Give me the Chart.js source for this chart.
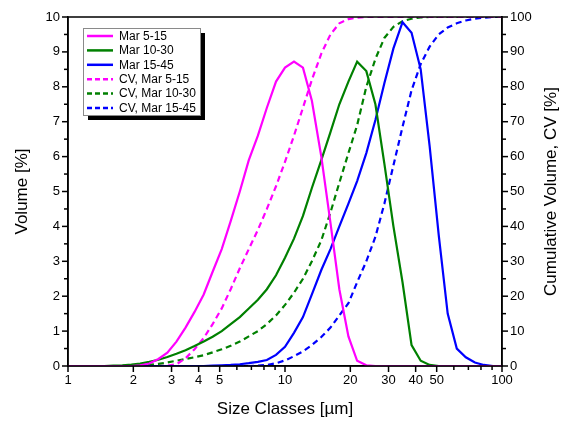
<!DOCTYPE html>
<html>
<head>
<meta charset="utf-8">
<script src="https://cdn.jsdelivr.net/npm/chart.js@4"></script>
<style>
  html, body { margin: 0; padding: 0; background: #fff; }
</style>
</head>
<body>
<canvas id="chart" width="566" height="421"></canvas>
<script>
// size classes [µm]
const sizes = [1, 1.1, 1.21, 1.33, 1.47, 1.62, 1.78, 1.96, 2.15, 2.37,
  2.61, 2.87, 3.16, 3.48, 3.83, 4.22, 4.64, 5.11, 5.62, 6.19,
  6.81, 7.5, 8.25, 9.09, 10, 11, 12.1, 13.3, 14.7, 16.2,
  17.8, 19.6, 21.5, 23.7, 26.1, 28.7, 31.6, 34.8, 38.3, 42.2,
  46.4, 51.1, 56.2, 61.9, 68.1, 75, 82.5, 90.9, 100];

// volume [%]
const vol5_15 = [0, 0, 0, 0, 0, 0, 0, 0, 0.02, 0.07,
  0.2, 0.38, 0.7, 1.1, 1.55, 2.05, 2.7, 3.35, 4.15, 5.0,
  5.9, 6.6, 7.4, 8.15, 8.55, 8.72, 8.55, 7.6, 6.0, 4.1,
  2.2, 0.85, 0.15, 0.02, 0, 0, 0, 0, 0, 0,
  0, 0, 0, 0, 0, 0, 0, 0, 0];
const vol10_30 = [0, 0, 0, 0, 0, 0.01, 0.02, 0.04, 0.07, 0.12,
  0.18, 0.26, 0.35, 0.45, 0.57, 0.7, 0.84, 1.0, 1.2, 1.4,
  1.65, 1.9, 2.2, 2.6, 3.1, 3.65, 4.3, 5.1, 5.9, 6.7,
  7.5, 8.15, 8.72, 8.45, 7.5, 5.8, 4.0, 2.4, 0.6, 0.15,
  0.03, 0, 0, 0, 0, 0, 0, 0, 0];
const vol15_45 = [0, 0, 0, 0, 0, 0, 0, 0, 0, 0,
  0, 0, 0, 0, 0, 0, 0.01, 0.02, 0.03, 0.05,
  0.08, 0.12, 0.17, 0.32, 0.55, 0.95, 1.4, 2.05, 2.75, 3.35,
  4.0, 4.65, 5.3, 6.1, 7.05, 8.1, 9.1, 9.85, 9.55, 8.5,
  6.3, 3.75, 1.5, 0.5, 0.25, 0.1, 0.03, 0, 0];

// cumulative volume [%]
const cv5_15 = [0, 0, 0, 0, 0, 0, 0, 0, 0, 0,
  0, 0.1, 0.5, 2.2, 4.8, 8, 12, 16.5, 22, 28,
  33.5, 39, 45, 51.5, 58.5, 66, 74, 82, 89.5, 95,
  98.2, 99.4, 99.8, 100, 100, 100, 100, 100, 100, 100,
  100, 100, 100, 100, 100, 100, 100, 100, 100];
const cv10_30 = [0, 0, 0, 0, 0, 0, 0, 0.05, 0.15, 0.3,
  0.6, 1.0, 1.5, 2.0, 2.5, 3.1, 3.9, 4.8, 5.8, 7.0,
  8.5, 10, 12, 14.5, 17.5, 21, 25, 30, 36, 44,
  52.5, 61, 69, 80, 88, 94, 97.2, 98.8, 99.5, 99.9,
  100, 100, 100, 100, 100, 100, 100, 100, 100];
const cv15_45 = [0, 0, 0, 0, 0, 0, 0, 0, 0, 0,
  0, 0, 0, 0, 0, 0, 0, 0, 0, 0,
  0, 0.1, 0.3, 0.8, 1.6, 2.8, 4.2, 6, 8.3, 11,
  14.5, 18, 24, 30, 37, 46.5, 57.5, 68.5, 79, 86.5,
  91.5, 95, 97, 98.2, 99, 99.5, 99.8, 100, 100];

const xTicks = [1, 2, 3, 4, 5, 6, 7, 8, 9, 10, 20, 30, 40, 50, 60, 70, 80, 90, 100];
const xLabels = [1, 2, 3, 4, 5, 10, 20, 30, 40, 50, 100];

const MAGENTA = '#ff00ff';
const GREEN = '#008000';
const BLUE = '#0000ff';

function pts(ys) {
  return sizes.map((x, i) => ({ x: x, y: ys[i] }));
}

function line(label, ys, color, axis, dashed) {
  return {
    label: label,
    data: pts(ys),
    yAxisID: axis,
    borderColor: color,
    backgroundColor: color,
    borderWidth: 2.2,
    borderDash: dashed ? [6, 4] : [],
    pointRadius: 0,
    tension: 0,
    fill: false,
  };
}

function tickMark(c, x1, y1, x2, y2) {
  c.beginPath();
  c.moveTo(x1, y1);
  c.lineTo(x2, y2);
  c.stroke();
}

// frame, tick marks (long major / short minor), right title and boxed legend
const extras = {
  id: 'extras',
  afterDraw(chart) {
    const c = chart.ctx;
    const a = chart.chartArea;
    const sx = chart.scales.x, sy = chart.scales.y, sy2 = chart.scales.y2;
    c.save();
    c.setLineDash([]);
    c.strokeStyle = '#000';
    c.lineWidth = 1.5;
    c.strokeRect(a.left, a.top, a.right - a.left, a.bottom - a.top);

    xTicks.forEach(v => {
      const p = sx.getPixelForValue(v);
      tickMark(c, p, a.bottom, p, a.bottom + (xLabels.includes(v) ? 6 : 4));
    });
    for (let v = 0; v <= 10; v += 0.5) {
      const p = sy.getPixelForValue(v);
      tickMark(c, a.left, p, a.left - (Number.isInteger(v) ? 6 : 4), p);
    }
    for (let v = 0; v <= 100; v += 5) {
      const p = sy2.getPixelForValue(v);
      tickMark(c, a.right, p, a.right + (v % 10 === 0 ? 6 : 4), p);
    }

    // right axis title, reading bottom to top
    c.fillStyle = '#000';
    c.font = '17px "Liberation Sans", Arial, sans-serif';
    c.textAlign = 'center';
    c.textBaseline = 'middle';
    c.translate(551, (a.top + a.bottom) / 2);
    c.rotate(-Math.PI / 2);
    c.fillText('Cumulative Volume, CV [%]', 0, 0);
    c.restore();

    // legend
    const bx = 83, by = 28, bw = 117, bh = 87;
    c.save();
    c.fillStyle = '#000';
    c.fillRect(bx + 5, by + 5, bw, bh);
    c.fillStyle = '#fff';
    c.fillRect(bx, by, bw, bh);
    c.strokeStyle = '#8a8a8a';
    c.lineWidth = 1;
    c.strokeRect(bx + 0.5, by + 0.5, bw, bh);
    c.font = '12px "Liberation Sans", Arial, sans-serif';
    c.textAlign = 'left';
    c.textBaseline = 'middle';
    chart.data.datasets.forEach((ds, i) => {
      const y = by + 8 + i * 14.4;
      c.strokeStyle = ds.borderColor;
      c.lineWidth = 2.5;
      c.setLineDash(ds.borderDash.length ? [5, 3] : []);
      tickMark(c, 87, y, 113, y);
      c.setLineDash([]);
      c.fillStyle = '#000';
      c.fillText(ds.label, 119, y + 0.5);
    });
    c.restore();
  }
};

Chart.defaults.font.family = '"Liberation Sans", Arial, sans-serif';
Chart.defaults.color = '#000';

const tickGrid = { drawOnChartArea: false, drawTicks: true, tickLength: 5, tickColor: 'rgba(0,0,0,0)', color: 'rgba(0,0,0,0)' };

const chart = new Chart(document.getElementById('chart'), {
  type: 'line',
  data: {
    datasets: [
      line('Mar 5-15', vol5_15, MAGENTA, 'y', false),
      line('Mar 10-30', vol10_30, GREEN, 'y', false),
      line('Mar 15-45', vol15_45, BLUE, 'y', false),
      line('CV, Mar 5-15', cv5_15, MAGENTA, 'y2', true),
      line('CV, Mar 10-30', cv10_30, GREEN, 'y2', true),
      line('CV, Mar 15-45', cv15_45, BLUE, 'y2', true),
    ],
  },
  options: {
    responsive: false,
    animation: false,
    layout: { padding: { top: 17, left: 0, right: 0, bottom: 0 } },
    plugins: {
      legend: { display: false },
      tooltip: { enabled: false },
    },
    scales: {
      x: {
        type: 'logarithmic',
        position: 'bottom',
        min: 1,
        max: 100,
        afterBuildTicks: (s) => { s.ticks = xTicks.map(v => ({ value: v })); },
        afterFit: (s) => { s.height = 55; },
        ticks: {
          autoSkip: false,
          maxRotation: 0,
          padding: 2,
          font: { size: 13 },
          color: '#000',
          callback: (v) => (xLabels.includes(v) ? String(v) : ''),
        },
        grid: tickGrid,
        border: { display: true, color: '#000', width: 1.5 },
        title: { display: true, text: 'Size Classes [µm]', font: { size: 17 }, color: '#000', padding: { top: 2, bottom: 1 } },
      },
      y: {
        type: 'linear',
        position: 'left',
        min: 0,
        max: 10,
        afterFit: (s) => { s.width = 68; },
        ticks: {
          stepSize: 0.5,
          padding: 3,
          font: { size: 13 },
          color: '#000',
          callback: (v) => (Number.isInteger(v) ? String(v) : ''),
        },
        grid: tickGrid,
        border: { display: true, color: '#000', width: 1.5 },
        title: { display: true, text: 'Volume [%]', font: { size: 17 }, color: '#000', padding: { top: 12, bottom: 0 } },
      },
      y2: {
        type: 'linear',
        position: 'right',
        min: 0,
        max: 100,
        afterFit: (s) => { s.width = 64; },
        ticks: {
          stepSize: 5,
          padding: 3,
          font: { size: 13 },
          color: '#000',
          callback: (v) => (v % 10 === 0 ? String(v) : ''),
        },
        grid: tickGrid,
        border: { display: true, color: '#000', width: 1.5 },
      },
    },
  },
  plugins: [extras],
});
</script>
</body>
</html>
